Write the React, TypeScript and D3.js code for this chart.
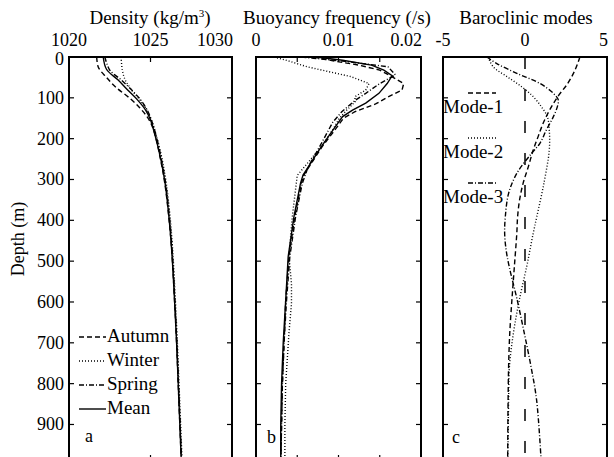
import React from "react";
import * as d3 from "d3";

// Depth ticks shared by all three panels (m)
const depthTicks = [0, 100, 200, 300, 400, 500, 600, 700, 800, 900];

// Panel a: potential density profiles, [depth (m), density (kg/m3)]
const densityAutumn: [number, number][] = [
  [0, 1021.7], [25, 1021.8], [50, 1022.3], [75, 1022.9], [100, 1023.7], [125, 1024.35],
  [150, 1024.85], [180, 1025.2], [252, 1025.62], [310, 1025.88], [391, 1026.12],
  [473, 1026.3], [600, 1026.48], [700, 1026.6], [800, 1026.7], [900, 1026.8], [1000, 1026.9],
];
const densityWinter: [number, number][] = [
  [0, 1023.2], [32, 1023.27], [56, 1023.45], [81, 1023.85], [105, 1024.35], [130, 1024.77],
  [154, 1025.05], [195, 1025.38], [252, 1025.72], [310, 1025.97], [391, 1026.2],
  [473, 1026.36], [600, 1026.53], [700, 1026.65], [800, 1026.75], [900, 1026.85], [1000, 1026.95],
];
const densitySpring: [number, number][] = [
  [0, 1022.2], [32, 1022.5], [56, 1023.2], [81, 1023.85], [105, 1024.4], [130, 1024.8],
  [154, 1025.05], [195, 1025.36], [252, 1025.68], [310, 1025.93], [391, 1026.16],
  [473, 1026.33], [600, 1026.5], [700, 1026.62], [800, 1026.72], [900, 1026.82], [1000, 1026.92],
];
const densityMean: [number, number][] = [
  [0, 1022.1], [30, 1022.3], [56, 1023.0], [81, 1023.6], [105, 1024.2], [130, 1024.7],
  [154, 1025.0], [195, 1025.3], [252, 1025.64], [310, 1025.9], [391, 1026.13],
  [473, 1026.3], [600, 1026.48], [700, 1026.6], [800, 1026.7], [900, 1026.8], [1000, 1026.9],
];
const densityTicks = [1020, 1025, 1030];

// Panel b: buoyancy frequency profiles, [depth (m), N (1/s)]
const nAutumn: [number, number][] = [
  [0, 0.007], [10, 0.0095], [20, 0.0125], [32, 0.015], [45, 0.0162], [65, 0.0179], [81, 0.0177],
  [100, 0.0158], [115, 0.0145], [134, 0.012], [150, 0.0106], [175, 0.0097], [220, 0.008],
  [289, 0.0058], [309, 0.0055], [391, 0.0047], [489, 0.004], [596, 0.0036], [700, 0.0034],
  [800, 0.0032], [900, 0.0031], [1000, 0.003],
];
const nWinter: [number, number][] = [
  [0, 0.0022], [10, 0.004], [24, 0.0062], [48, 0.0115], [65, 0.0137], [81, 0.0133], [97, 0.012],
  [110, 0.012], [130, 0.011], [150, 0.0101], [175, 0.0094], [220, 0.0079], [290, 0.005],
  [391, 0.0044], [489, 0.004], [555, 0.0043], [604, 0.0043], [675, 0.004], [800, 0.0036],
  [900, 0.0035], [1000, 0.0035],
];
const nSpring: [number, number][] = [
  [0, 0.0055], [10, 0.0105], [24, 0.016], [44, 0.0169], [65, 0.015], [89, 0.0133], [105, 0.0121],
  [134, 0.0104], [160, 0.0093], [220, 0.0077], [270, 0.0063], [310, 0.0056], [391, 0.0048],
  [489, 0.0041], [596, 0.0037], [700, 0.0034], [800, 0.0032], [900, 0.0031], [1000, 0.003],
];
const nMean: [number, number][] = [
  [0, 0.0073], [8, 0.0105], [20, 0.014], [32, 0.0155], [46, 0.0165], [65, 0.0159], [89, 0.0149],
  [113, 0.0133], [130, 0.0117], [146, 0.0105], [171, 0.0096], [220, 0.0079], [289, 0.0057],
  [309, 0.0054], [391, 0.0046], [489, 0.0039], [596, 0.0036], [700, 0.0033], [800, 0.0031],
  [900, 0.003], [1000, 0.003],
];
const nTicks = [0, 0.005, 0.01, 0.015, 0.02];
const nTickLabels = [0, 0.01, 0.02];

// Panel c: vertical structure of the first three baroclinic modes, [depth (m), amplitude]
const mode1: [number, number][] = [
  [0, 3.35], [32, 3.05], [65, 2.6], [97, 2.0], [130, 1.5], [163, 1.1], [195, 0.8], [228, 0.5],
  [269, 0.2], [310, -0.12], [350, -0.33], [391, -0.45], [432, -0.5], [514, -0.65], [596, -0.8],
  [677, -0.93], [759, -1.0], [841, -1.03], [1000, -1.06],
];
const mode2: [number, number][] = [
  [0, -2.24], [24, -1.94], [48, -1.1], [73, -0.2], [97, 0.5], [122, 1.0], [146, 1.36], [179, 1.48],
  [228, 1.48], [310, 1.15], [391, 0.72], [432, 0.5], [473, 0.3], [514, 0.1], [596, -0.35],
  [677, -0.71], [759, -0.95], [841, -1.0], [1000, -1.05],
];
const mode3: [number, number][] = [
  [0, -2.33], [16, -1.72], [40, -0.5], [65, 0.92], [89, 1.73], [105, 2.03], [122, 1.97],
  [146, 1.73], [179, 1.3], [212, 0.9], [236, 0.4], [285, -0.5], [334, -1.0], [391, -1.2],
  [432, -1.24], [473, -1.15], [514, -0.96], [596, -0.47], [677, -0.04], [759, 0.37],
  [841, 0.71], [1000, 1.0],
];
const modeTicks = [-5, 0, 5];

const seasonNames = ["Autumn", "Winter", "Spring", "Mean"];
const modeNames = ["Mode-1", "Mode-2", "Mode-3"];

const DASHED = "5,3";
const DOTTED = "1,2";
const DASHDOT = "5,2,1,2";
const SOLID = "none";
const seasonDash = [DASHED, DOTTED, DASHDOT, SOLID];
const modeDash = [DASHED, DOTTED, DASHDOT];

const FONT = "'Liberation Serif', 'Times New Roman', serif";
const TOP = 57;
const BOTTOM = 460;
const TICK = 5;

const y = d3.scaleLinear().domain([0, 987]).range([TOP, BOTTOM]);

const panels = [
  { x0: 69, x1: 232, domain: [1020, 1030] },
  { x0: 256, x1: 421, domain: [0, 0.02] },
  { x0: 443, x1: 607, domain: [-5, 5] },
];

const xA = d3.scaleLinear().domain(panels[0].domain).range([panels[0].x0, panels[0].x1]);
const xB = d3.scaleLinear().domain(panels[1].domain).range([panels[1].x0, panels[1].x1]);
const xC = d3.scaleLinear().domain(panels[2].domain).range([panels[2].x0, panels[2].x1]);

function profile(x: d3.ScaleLinear<number, number>, curve: d3.CurveFactory) {
  return d3
    .line<[number, number]>()
    .x((d) => x(d[1]))
    .y((d) => y(d[0]))
    .curve(curve);
}

const lineA = profile(xA, d3.curveCatmullRom);
const lineB = profile(xB, d3.curveLinear);
const lineC = profile(xC, d3.curveCatmullRom);

function Frame({ x0, x1 }: { x0: number; x1: number }) {
  return (
    <g>
      {depthTicks.map((t) => (
        <g key={t}>
          <line x1={x0} x2={x0 + TICK} y1={y(t)} y2={y(t)} stroke="#000" strokeWidth={1.2} />
          <line x1={x1} x2={x1 - TICK} y1={y(t)} y2={y(t)} stroke="#000" strokeWidth={1.2} />
        </g>
      ))}
      <rect x={x0} y={TOP} width={x1 - x0} height={BOTTOM - TOP} fill="none" stroke="#000" strokeWidth={2} />
    </g>
  );
}

function XTicks({ x, ticks }: { x: d3.ScaleLinear<number, number>; ticks: number[] }) {
  return (
    <g>
      {ticks.map((t) => (
        <g key={t}>
          <line x1={x(t)} x2={x(t)} y1={TOP} y2={TOP + TICK} stroke="#000" strokeWidth={1.2} />
          <line x1={x(t)} x2={x(t)} y1={BOTTOM} y2={BOTTOM - TICK} stroke="#000" strokeWidth={1.2} />
        </g>
      ))}
    </g>
  );
}

function TopLabels({ x, values, fmt }: { x: d3.ScaleLinear<number, number>; values: number[]; fmt: (v: number) => string }) {
  return (
    <g fontSize={18}>
      {values.map((v, i) => {
        const last = i === values.length - 1;
        return (
          <text key={v} x={last ? x(v) + 1 : x(v)} y={46} textAnchor={last ? "end" : "middle"}>
            {fmt(v)}
          </text>
        );
      })}
    </g>
  );
}

export default function App() {
  const seasonsA = [densityAutumn, densityWinter, densitySpring, densityMean];
  const seasonsB = [nAutumn, nWinter, nSpring, nMean];
  const modes = [mode1, mode2, mode3];
  const lw = 1.4;

  return (
    <svg
      width={614}
      height={457}
      style={{ position: "absolute", left: 0, top: 0, background: "#fff" }}
      fontFamily={FONT}
      fill="#000"
    >
      <rect width={614} height={457} fill="#fff" />

      {/* Titles */}
      <text x={150} y={24} fontSize={19} textAnchor="middle">
        Density (kg/m<tspan dy={-7} fontSize={11}>3</tspan><tspan dy={7}>)</tspan>
      </text>
      <text x={337} y={24} fontSize={19} textAnchor="middle">Buoyancy frequency (/s)</text>
      <text x={526} y={24} fontSize={19} textAnchor="middle">Baroclinic modes</text>

      {/* Top tick labels */}
      <TopLabels x={xA} values={densityTicks} fmt={(v) => String(v)} />
      <TopLabels x={xB} values={nTickLabels} fmt={(v) => (v === 0 ? "0" : String(v))} />
      <TopLabels x={xC} values={modeTicks} fmt={(v) => String(v)} />

      {/* Depth axis */}
      <g fontSize={18} textAnchor="end">
        {depthTicks.map((t) => (
          <text key={t} x={64} y={y(t) + (t === 0 ? 8 : 6)}>{t}</text>
        ))}
      </g>
      <text transform="translate(24,239) rotate(-90)" fontSize={18} textAnchor="middle">Depth (m)</text>

      {/* Panel a */}
      <g fill="none" stroke="#000" strokeWidth={lw}>
        {seasonsA.map((s, i) => (
          <path key={i} d={lineA(s) || ""} strokeDasharray={seasonDash[i]} />
        ))}
      </g>
      <XTicks x={xA} ticks={[1025]} />
      <g>
        {seasonNames.map((name, i) => {
          const ly = 337 + i * 24;
          return (
            <g key={name}>
              <line x1={79} x2={106} y1={ly} y2={ly} stroke="#000" strokeWidth={lw} strokeDasharray={seasonDash[i]} />
              <text x={107} y={ly + 5} fontSize={19}>{name}</text>
            </g>
          );
        })}
      </g>
      <text x={85} y={442} fontSize={18}>a</text>
      <Frame x0={panels[0].x0} x1={panels[0].x1} />

      {/* Panel b */}
      <g fill="none" stroke="#000" strokeWidth={lw}>
        {seasonsB.map((s, i) => (
          <path key={i} d={lineB(s) || ""} strokeDasharray={seasonDash[i]} />
        ))}
      </g>
      <XTicks x={xB} ticks={nTicks.slice(1, -1)} />
      <text x={267} y={443} fontSize={18}>b</text>
      <Frame x0={panels[1].x0} x1={panels[1].x1} />

      {/* Panel c */}
      <line x1={xC(0)} x2={xC(0)} y1={TOP} y2={BOTTOM} stroke="#000" strokeWidth={1.5} strokeDasharray="12,20" />
      <g fill="none" stroke="#000" strokeWidth={lw}>
        {modes.map((m, i) => (
          <path key={i} d={lineC(m) || ""} strokeDasharray={modeDash[i]} />
        ))}
      </g>
      <g>
        {modeNames.map((name, i) => {
          const ly = 93 + i * 45;
          return (
            <g key={name}>
              <line x1={468} x2={496} y1={ly} y2={ly} stroke="#000" strokeWidth={lw} strokeDasharray={modeDash[i]} />
              <text x={443} y={ly + 20} fontSize={19}>{name}</text>
            </g>
          );
        })}
      </g>
      <text x={452} y={443} fontSize={18}>c</text>
      <Frame x0={panels[2].x0} x1={panels[2].x1} />
    </svg>
  );
}
